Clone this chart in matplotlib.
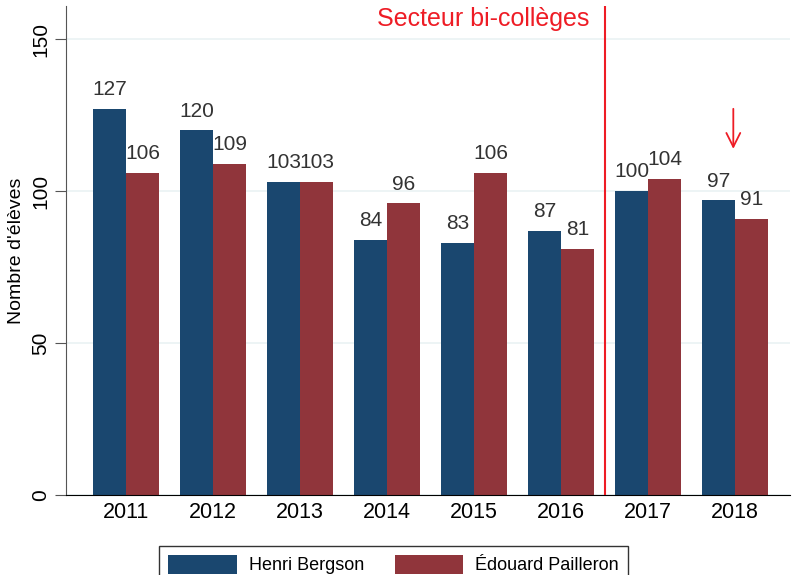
import matplotlib.pyplot as plt
import numpy as np

plt.rcParams['font.family'] = ['Liberation Sans', 'DejaVu Sans']

years = ['2011', '2012', '2013', '2014', '2015', '2016', '2017', '2018']
bergson = [127, 120, 103, 84, 83, 87, 100, 97]
pailleron = [106, 109, 103, 96, 106, 81, 104, 91]

blue = '#1a476f'
red = '#90353b'

fig = plt.figure(figsize=(7.92, 5.75), dpi=100)
ax = fig.add_axes([0.0833, 0.139, 0.914, 0.851])

x = np.arange(len(years))
w = 0.38
b1 = ax.bar(x - w / 2, bergson, w, color=blue, label='Henri Bergson', zorder=2)
b2 = ax.bar(x + w / 2, pailleron, w, color=red, label='Édouard Pailleron', zorder=2)

# labels above bars
for xs, vals in [(x - w / 2, bergson), (x + w / 2, pailleron)]:
    for xi, v in zip(xs, vals):
        ax.text(xi, v + 3.2, str(v), ha='center', va='bottom', fontsize=15, color='#333333')

ax.axvline(5.5, color='#ee1c25', lw=1.5, zorder=3)
ax.text(5.33, 156.5, 'Secteur bi-collèges', color='#ee1c25', fontsize=18,
        ha='right', va='center')
ax.annotate('', xy=(6.98, 113), xytext=(6.98, 128),
            arrowprops=dict(arrowstyle='->', color='#ee1c25', lw=1.3,
                            mutation_scale=25))

ax.set_xlim(-0.69, 7.63)
ax.set_ylim(0, 161)
ax.set_yticks([0, 50, 100, 150])
ax.set_xticks(x)
ax.set_xticklabels(years, fontsize=15.5)
ax.tick_params(axis='x', length=0, pad=5)
ax.tick_params(axis='y', length=8, labelsize=15, labelrotation=90, color='#555555')
for lab in ax.get_yticklabels():
    lab.set_va('center')
ax.grid(axis='y', color='#eaf2f3', lw=1.2, zorder=0)
ax.spines['top'].set_visible(False)
ax.spines['right'].set_visible(False)
ax.spines['left'].set_color('#555555')
ax.set_ylabel("Nombre d'élèves", fontsize=14)

leg = fig.legend(handles=[b1, b2], loc='upper center', bbox_to_anchor=(0.497, 0.066),
                 ncol=2, fontsize=13, frameon=True, fancybox=False,
                 handlelength=3.8, handleheight=1.2, handletextpad=0.67,
                 columnspacing=1.7, edgecolor='black', borderpad=0.5)
leg.get_frame().set_linewidth(1)

fig.savefig('out.png', dpi=100)
